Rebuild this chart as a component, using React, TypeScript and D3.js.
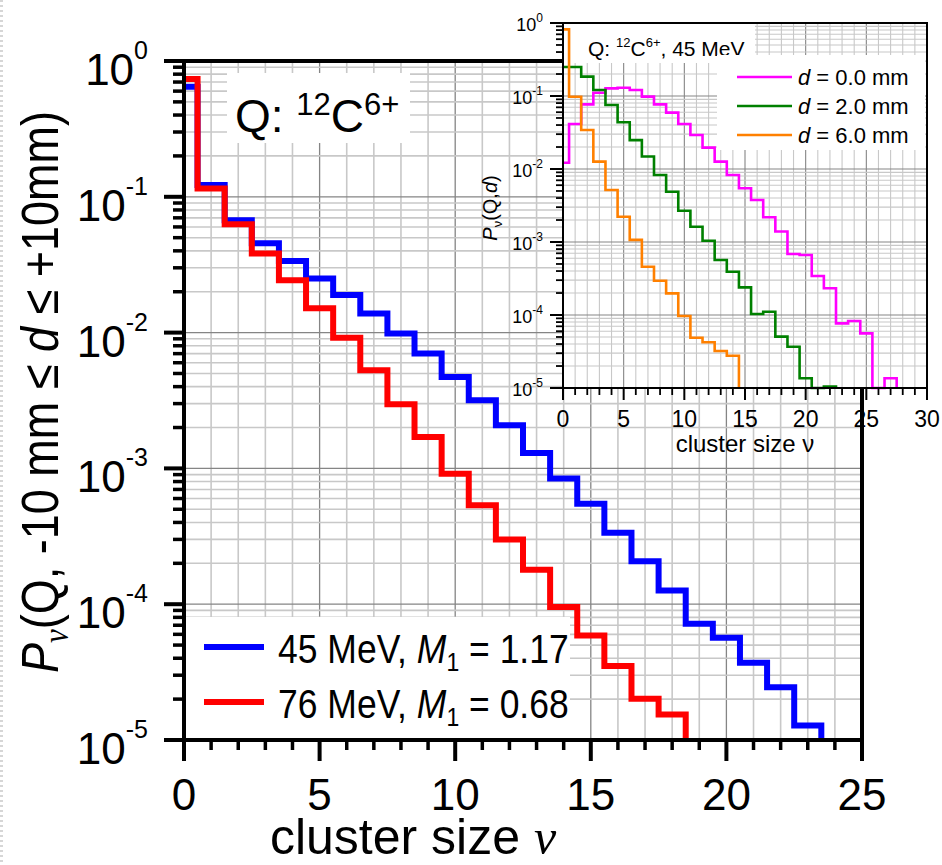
import React from "react";
import * as d3 from "d3";

const SANS = "'Liberation Sans', Arial, Helvetica, sans-serif";
const SERIF = "'Liberation Serif', 'Times New Roman', serif";

// Cluster-size probabilities P_ν, bin index = ν (0, 1, 2, ...), -10 mm ≤ d ≤ +10 mm
const p45MeV = [
  0.646, 0.122, 0.0673, 0.0454, 0.0336, 0.025, 0.0189, 0.0138, 0.00985, 0.00701,
  0.00472, 0.00318, 0.00208, 0.0013, 0.000841, 0.00055, 0.000336, 0.000207,
  0.000126, 0.0000718, 0.0000566, 0.0000371, 0.0000245, 0.0000128,
];
const p76MeV = [
  0.737, 0.115, 0.0629, 0.0383, 0.0243, 0.0151, 0.00917, 0.00528, 0.00297, 0.0017,
  0.000915, 0.000535, 0.000299, 0.000179, 0.0000952, 0.0000589, 0.000035,
  0.0000201, 0.0000154,
];
const mainNames = ["45 MeV", "76 MeV"];
const mainM1 = ["1.17", "0.68"];
const mainColors = ["#0000ff", "#ff0000"];

// Inset: 45 MeV at fixed distances d
const pD0 = [
  0.0122, 0.0413, 0.0769, 0.111, 0.127, 0.13, 0.121, 0.098, 0.0769, 0.0591, 0.0413,
  0.0292, 0.0196, 0.0126, 0.00828, 0.00544, 0.00376, 0.00218, 0.00139, 0.000686,
  0.000664, 0.000342, 0.000232, 0.0000769, 0.0000828, 0.0000561, 0, 0.0000136,
];
const pD2 = [
  0.25, 0.25, 0.184, 0.121, 0.0753, 0.0436, 0.0249, 0.0148, 0.00828, 0.00489,
  0.00268, 0.00162, 0.00104, 0.000566, 0.000392, 0.000239, 0.000103, 0.000111,
  0.0000505, 0.0000368, 0.0000136, 0, 0.0000105,
];
const pD6 = [
  0.819, 0.0978, 0.0342, 0.0126, 0.00516, 0.00222, 0.00107, 0.000459, 0.000295,
  0.000198, 0.0000969, 0.0000489, 0.0000423, 0.0000321, 0.0000277,
];
const insetDist = ["0.0", "2.0", "6.0"];
const insetColors = ["#ff00ff", "#008000", "#ff8000"];

const mainXTicks = [0, 5, 10, 15, 20, 25];
const insetXTicks = [0, 5, 10, 15, 20, 25, 30];
const decadeExps = [0, -1, -2, -3, -4, -5];

const FLOOR = 1e-5;
const minorVals = d3.range(-5, 0).flatMap((e) => d3.range(2, 10).map((m) => m * Math.pow(10, e)));

function stepPath(vals: number[], x: d3.ScaleLinear<number, number>, y: d3.ScaleLogarithmic<number, number>) {
  const pts: [number, number][] = [];
  vals.forEach((v, i) => {
    const yy = y(Math.max(v, FLOOR));
    pts.push([x(Math.max(i - 0.5, 0)), yy], [x(i + 0.5), yy]);
  });
  pts.push([x(vals.length - 0.5), y(FLOOR)]);
  return d3.line()(pts) as string;
}

const LIGHT = "#c8c8c8";
const DARK = "#858585";

export default function App() {
  const xM = d3.scaleLinear().domain([0, 25]).range([184, 862]);
  const yM = d3.scaleLog().domain([FLOOR, 1]).range([740, 61]);
  const xI = d3.scaleLinear().domain([0, 30]).range([563, 927]);
  const yI = d3.scaleLog().domain([FLOOR, 1]).range([388, 23]);

  const [mx0, mx1] = xM.range();
  const [my1, my0] = yM.range();
  const [ix0, ix1] = xI.range();
  const [iy1, iy0] = yI.range();

  const mainSeries = [p45MeV, p76MeV];
  const insetSeries = [pD0, pD2, pD6];

  return (
    <svg
      width={942}
      height={865}
      viewBox="0 0 942 865"
      style={{ position: "absolute", left: 0, top: 0, background: "#fff" }}
      fontFamily={SANS}
    >
      <rect x={0} y={0} width={942} height={865} fill="#fff" />
      <line x1={1.5} x2={1.5} y1={0} y2={865} stroke="#d6d6d6" strokeWidth={3} strokeDasharray="2 3" />

      {/* ---------- main chart ---------- */}
      <g>
        {d3.range(1, 25).map((v) => (
          <line key={"mgx" + v} x1={xM(v)} x2={xM(v)} y1={my0} y2={my1}
            stroke={v % 5 === 0 ? DARK : LIGHT} strokeWidth={v % 5 === 0 ? 1.3 : 1.6} />
        ))}
        {minorVals.map((v, i) => (
          <line key={"mgy" + i} x1={mx0} x2={mx1} y1={yM(v)} y2={yM(v)} stroke={LIGHT} strokeWidth={1.6} />
        ))}
        {decadeExps.slice(1, 5).map((e) => (
          <line key={"mgd" + e} x1={mx0} x2={mx1} y1={yM(Math.pow(10, e))} y2={yM(Math.pow(10, e))}
            stroke={DARK} strokeWidth={1.3} />
        ))}

        {/* annotation box */}
        <rect x={227} y={73} width={183} height={70} fill="#fff" />
        <text x={235} y={132} fontSize={46}>
          <tspan>Q: </tspan>
          <tspan fontSize={31} dy={-17}>12</tspan>
          <tspan dy={17}>C</tspan>
          <tspan fontSize={31} dy={-17}>6+</tspan>
        </text>

        {/* legend */}
        <rect x={186} y={617} width={384} height={121} fill="#fff" />
        {mainNames.map((n, i) => {
          const ly = 647 + 55 * i;
          return (
            <g key={"ml" + i}>
              <line x1={204} x2={264} y1={ly} y2={ly} stroke={mainColors[i]} strokeWidth={6} />
              <g transform={`translate(278,${ly + 16}) scale(1,1.15)`}>
                <text x={0} y={0} fontSize={35.5}>
                  <tspan>{n}, </tspan>
                  <tspan fontStyle="italic">M</tspan>
                  <tspan fontSize={23} dy={7}>1</tspan>
                  <tspan dy={-7}> = {mainM1[i]}</tspan>
                </text>
              </g>
            </g>
          );
        })}

        {mainSeries.map((s, i) => (
          <path key={"ms" + i} d={stepPath(s, xM, yM)} fill="none" stroke={mainColors[i]}
            strokeWidth={6} strokeLinejoin="miter" />
        ))}

        {/* axes frame */}
        <line x1={mx0} x2={mx0} y1={my0 - 2} y2={my1 + 2} stroke="#000" strokeWidth={4} />
        <line x1={mx0 - 20} x2={mx1 + 2} y1={my1} y2={my1} stroke="#000" strokeWidth={4} />
        <line x1={mx0 - 20} x2={mx1} y1={my0} y2={my0} stroke="#000" strokeWidth={4} />
        <line x1={mx1} x2={mx1} y1={my0 - 2} y2={my1 + 2} stroke="#000" strokeWidth={4} />

        {decadeExps.map((e) => (
          <line key={"mtd" + e} x1={mx0 - 20} x2={mx0} y1={yM(Math.pow(10, e))} y2={yM(Math.pow(10, e))}
            stroke="#000" strokeWidth={4} />
        ))}
        {minorVals.map((v, i) => (
          <line key={"mtm" + i} x1={mx0 - 11} x2={mx0} y1={yM(v)} y2={yM(v)} stroke="#000" strokeWidth={3.5} />
        ))}
        {d3.range(0, 26).map((v) => (
          <line key={"mtx" + v} x1={xM(v)} x2={xM(v)} y1={my1} y2={my1 + (v % 5 === 0 ? 21 : 10)}
            stroke="#000" strokeWidth={v % 5 === 0 ? 4 : 3.5} />
        ))}

        {decadeExps.map((e) => (
          <text key={"mly" + e} x={148} y={yM(Math.pow(10, e)) + 24} fontSize={44} textAnchor="end">
            <tspan>10</tspan>
            <tspan fontSize={25} dy={-26}>{e}</tspan>
          </text>
        ))}
        {mainXTicks.map((v) => (
          <text key={"mlx" + v} x={xM(v)} y={810} fontSize={44} textAnchor="middle">{v}</text>
        ))}

        <text x={413} y={854} fontSize={50} textAnchor="middle">
          <tspan>cluster size </tspan>
          <tspan fontFamily={SERIF} fontStyle="italic">ν</tspan>
        </text>
        <g transform="translate(58,392) rotate(-90) scale(1,1.15)">
          <text x={0} y={0} fontSize={45} textAnchor="middle">
            <tspan fontStyle="italic">P</tspan>
            <tspan fontFamily={SERIF} fontStyle="italic" fontSize={31} dy={9}>ν</tspan>
            <tspan dy={-9}>(Q, -10 mm ≤ </tspan>
            <tspan fontStyle="italic">d</tspan>
            <tspan> ≤ +10mm)</tspan>
          </text>
        </g>
      </g>

      {/* ---------- inset ---------- */}
      <g>
        <rect x={ix0} y={iy0} width={ix1 - ix0} height={iy1 - iy0} fill="#fff" />
        {d3.range(1, 30).map((v) => (
          <line key={"igx" + v} x1={xI(v)} x2={xI(v)} y1={iy0} y2={iy1}
            stroke={v % 5 === 0 ? DARK : LIGHT} strokeWidth={1.1} />
        ))}
        {minorVals.map((v, i) => (
          <line key={"igy" + i} x1={ix0} x2={ix1} y1={yI(v)} y2={yI(v)} stroke={LIGHT} strokeWidth={1.1} />
        ))}
        {decadeExps.slice(1, 5).map((e) => (
          <line key={"igd" + e} x1={ix0} x2={ix1} y1={yI(Math.pow(10, e))} y2={yI(Math.pow(10, e))}
            stroke={DARK} strokeWidth={1.1} />
        ))}

        <rect x={ix0} y={iy0} width={192} height={40} fill="#fff" />
        <text x={588} y={56} fontSize={21}>
          <tspan>Q: </tspan>
          <tspan fontSize={13} dy={-9}>12</tspan>
          <tspan dy={9}>C</tspan>
          <tspan fontSize={13} dy={-9}>6+</tspan>
          <tspan dy={9}>, 45 MeV</tspan>
        </text>

        <rect x={717} y={55} width={208} height={95} fill="#fff" />
        {insetDist.map((d, i) => {
          const ly = 77 + 29 * i;
          return (
            <g key={"il" + i}>
              <line x1={737} x2={792} y1={ly} y2={ly} stroke={insetColors[i]} strokeWidth={2.6} />
              <text x={798} y={ly + 8} fontSize={22}>
                <tspan fontStyle="italic">d</tspan>
                <tspan> = {d} mm</tspan>
              </text>
            </g>
          );
        })}

        {insetSeries.map((s, i) => (
          <path key={"is" + i} d={stepPath(s, xI, yI)} fill="none" stroke={insetColors[i]}
            strokeWidth={2.6} strokeLinejoin="miter" />
        ))}

        <rect x={ix0} y={iy0} width={ix1 - ix0} height={iy1 - iy0} fill="none" stroke="#000" strokeWidth={2} />
        {decadeExps.map((e) => (
          <line key={"itd" + e} x1={ix0 - 13} x2={ix0} y1={yI(Math.pow(10, e))} y2={yI(Math.pow(10, e))}
            stroke="#000" strokeWidth={2} />
        ))}
        {minorVals.map((v, i) => (
          <line key={"itm" + i} x1={ix0 - 7} x2={ix0} y1={yI(v)} y2={yI(v)} stroke="#000" strokeWidth={1.8} />
        ))}
        {d3.range(0, 31).map((v) => (
          <line key={"itx" + v} x1={xI(v)} x2={xI(v)} y1={iy1} y2={iy1 + (v % 5 === 0 ? 12 : 7)}
            stroke="#000" strokeWidth={v % 5 === 0 ? 2 : 1.8} />
        ))}

        {decadeExps.map((e) => (
          <text key={"ily" + e} x={543} y={yI(Math.pow(10, e)) + 8} fontSize={18} textAnchor="end">
            <tspan>10</tspan>
            <tspan fontSize={12} dy={-9}>{e}</tspan>
          </text>
        ))}
        {insetXTicks.map((v) => (
          <text key={"ilx" + v} x={xI(v)} y={427} fontSize={23} textAnchor="middle">{v}</text>
        ))}
        <text x={745} y={452} fontSize={24} textAnchor="middle">cluster size ν</text>
        <text transform="translate(497,208) rotate(-90)" fontSize={20} textAnchor="middle">
          <tspan fontStyle="italic">P</tspan>
          <tspan fontSize={13} dy={5}>ν</tspan>
          <tspan dy={-5}>(Q,</tspan>
          <tspan fontStyle="italic">d</tspan>
          <tspan>)</tspan>
        </text>
      </g>
    </svg>
  );
}
